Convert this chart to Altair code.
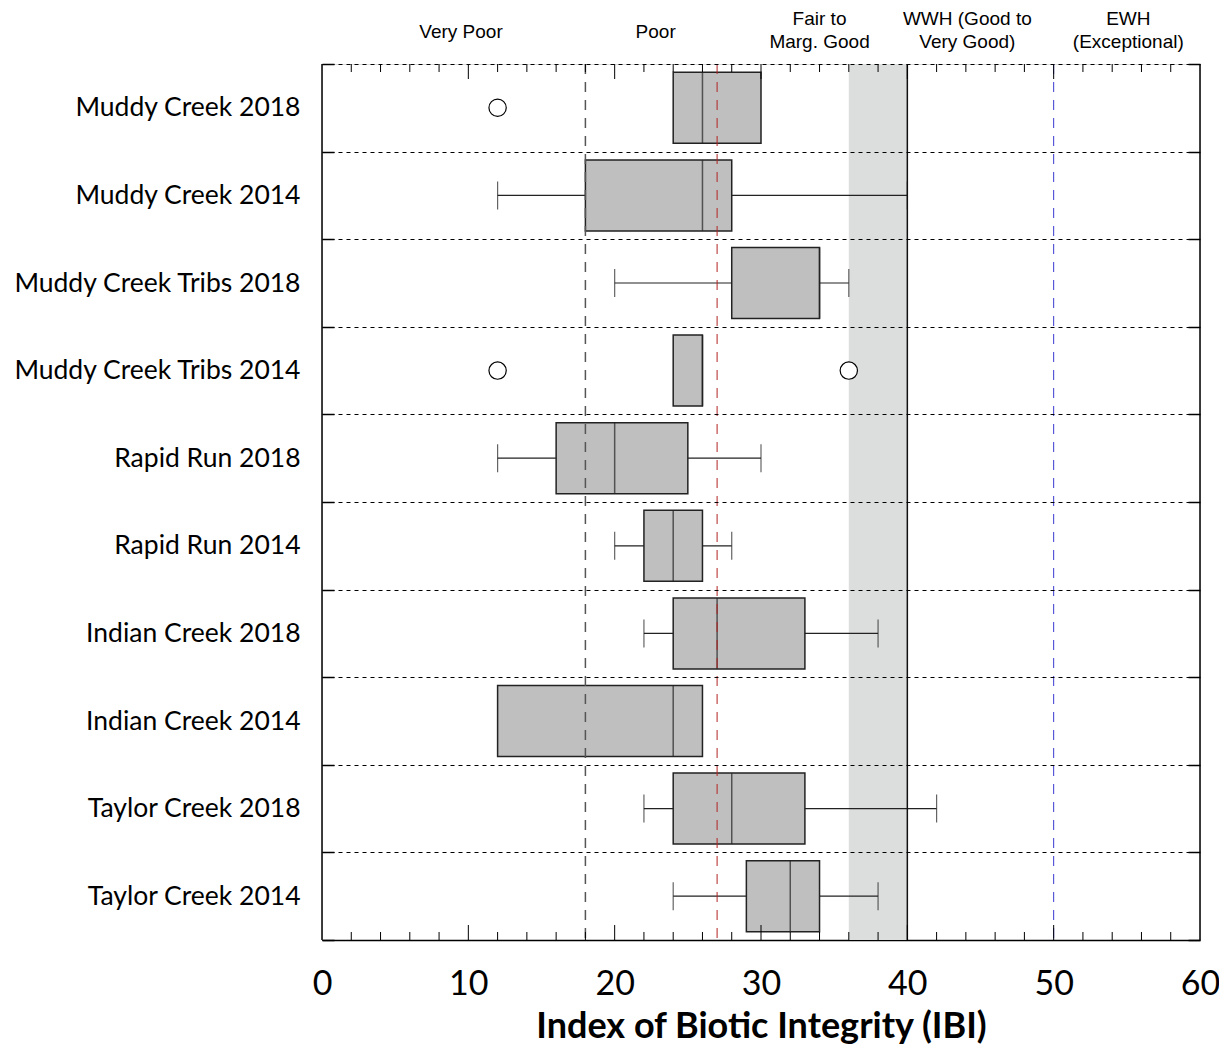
import altair as alt
import pandas as pd

# ---- data ----
categories = ["Muddy Creek 2018", "Muddy Creek 2014", "Muddy Creek Tribs 2018",
              "Muddy Creek Tribs 2014", "Rapid Run 2018", "Rapid Run 2014",
              "Indian Creek 2018", "Indian Creek 2014", "Taylor Creek 2018",
              "Taylor Creek 2014"]
whisker_low = [None, 12, 20, None, 12, 20, 22, None, 22, 24]
q1 = [24, 18, 28, 24, 16, 22, 24, 12, 24, 29]
median = [26, 26, 34, 26, 20, 24, 27, 24, 28, 32]
q3 = [30, 28, 34, 26, 25, 26, 33, 26, 33, 34]
whisker_high = [None, 40, 36, None, 30, 28, 38, 34, 42, 38]

outlier_sites = ["Muddy Creek 2018", "Muddy Creek Tribs 2014", "Muddy Creek Tribs 2014"]
outlier_values = [12, 12, 36]

single_labels = ["Very Poor", "Poor"]
single_label_pos = [9.5, 22.8]
double_labels = ["Fair to\nMarg. Good", "WWH (Good to\nVery Good)", "EWH\n(Exceptional)"]
double_label_pos = [34.0, 44.1, 55.1]

band_lo = [36]
band_hi = [40]
x_domain = [0, 60]
x_labels = [0, 10, 20, 30, 40, 50, 60]
minor_ticks = [v for v in range(2, 60, 2) if v % 10 != 0]
major_ticks = [10, 20, 30, 40, 50]

W, H = 878, 876

boxes = pd.DataFrame({"site": categories, "q1": q1, "median": median, "q3": q3})
whisk = pd.DataFrame({"site": categories, "lo": whisker_low, "hi": whisker_high}).dropna()
caps = pd.concat([
    whisk[["site", "lo"]].rename(columns={"lo": "v"}),
    whisk[["site", "hi"]].rename(columns={"hi": "v"}),
])
outl = pd.DataFrame({"site": outlier_sites, "v": outlier_values})

x_axis = alt.Axis(values=x_labels, ticks=False, grid=False, domain=True,
                  domainColor="#000", domainWidth=1.5, labelFont="Lato",
                  labelFontSize=34, labelPadding=27, labelColor="#000",
                  labelFlush=False, labelOverlap=False,
                  title="Index of Biotic Integrity (IBI)", titleFont="Lato",
                  titleFontSize=36, titleFontWeight="bold", titleColor="#000",
                  titlePadding=8)
x_scale = alt.Scale(domain=x_domain, nice=False, zero=False)


def X(field, typ="Q"):
    return alt.X(f"{field}:{typ}", scale=x_scale, axis=x_axis)


y_scale = alt.Scale(domain=categories, paddingInner=0, paddingOuter=0)
left_axis = alt.Axis(orient="left", title=None, tickBand="extent", grid=True,
                     gridDash=[4, 4], gridColor="#000", gridWidth=1,
                     domain=False, ticks=True, tickSize=12, tickColor="#000",
                     tickWidth=1.5, offset=-12, labelPadding=22,
                     labelFont="Lato", labelFontSize=26.5, labelColor="#000",
                     labelLimit=0, zindex=1)
right_axis = alt.Axis(orient="right", title=None, tickBand="extent", grid=False,
                      domain=False, ticks=True, tickSize=12, tickColor="#000",
                      tickWidth=1.5, offset=-12, labels=False, zindex=1)


def Y(axis):
    return alt.Y("site:N", sort=None, scale=y_scale, axis=axis)


band_df = pd.DataFrame({"a": band_lo, "b": band_hi})
band = alt.Chart(band_df).mark_rect(color="#DCDEDD").encode(
    x=X("a"), x2="b:Q", y=alt.value(0), y2=alt.value(H))

def vline(v, **kw):
    return alt.Chart(pd.DataFrame({"v": [v]})).mark_rule(**kw).encode(x=X("v"))

line18 = vline(18, color="#555555", strokeWidth=1.5, strokeDash=[10, 8])
line27 = vline(27, color="#B22222", strokeWidth=1, strokeDash=[10, 8])
line40 = vline(40, color="#111111", strokeWidth=1.5)
line50 = vline(50, color="#3A3AD0", strokeWidth=1, strokeDash=[10, 8])
border_l = vline(x_domain[0], color="#000", strokeWidth=1.5)
border_r = vline(x_domain[1], color="#000", strokeWidth=1.5)

def ticks(vals, y0, y1):
    return alt.Chart(pd.DataFrame({"v": vals})).mark_rule(color="#000", strokeWidth=1).encode(
        x=X("v"), y=alt.value(y0), y2=alt.value(y1))

t1 = ticks(minor_ticks, 0, 8)
t2 = ticks(major_ticks, 0, 15)
t3 = ticks(minor_ticks, H, H - 8)
t4 = ticks(major_ticks, H, H - 15)

whisker = alt.Chart(whisk).mark_rule(color="#222", strokeWidth=1.2).encode(
    x=X("lo"), x2="hi:Q", y=Y(right_axis))
cap = alt.Chart(caps).mark_tick(color="#222", size=28, thickness=1.2).encode(
    x=X("v"), y=Y(None))
box = alt.Chart(boxes).mark_bar(color="#BFBFBF", stroke="#222", strokeWidth=1.5,
                                height={"band": 0.81}).encode(
    x=X("q1"), x2="q3:Q", y=Y(left_axis))
med = alt.Chart(boxes).mark_tick(color="#222", size=71, thickness=1.5).encode(
    x=X("median"), y=Y(None))
pts = alt.Chart(outl).mark_point(shape="circle", filled=True, fill="white",
                                 stroke="#000", strokeWidth=1.2, size=300,
                                 opacity=1).encode(x=X("v"), y=Y(None))

lab1 = alt.Chart(pd.DataFrame({"label": single_labels, "v": single_label_pos})).mark_text(
    font="Liberation Sans", fontSize=19, baseline="middle", align="center",
    color="#000").encode(x=X("v"), y=alt.value(-32), text="label:N")
lab2 = alt.Chart(pd.DataFrame({"label": double_labels, "v": double_label_pos})).mark_text(
    font="Liberation Sans", fontSize=19, lineBreak="\n", lineHeight=23,
    baseline="middle", align="center", color="#000").encode(
    x=X("v"), y=alt.value(-45), text="label:N")

chart = alt.layer(
    band, whisker, cap, box, med, line18, line27, line40, line50,
    border_l, border_r, t1, t2, t3, t4, pts, lab1, lab2
).resolve_axis(y="independent").properties(
    width=W, height=H,
    autosize=alt.AutoSizeParams(type="none"),
    padding={"left": 314, "top": 56, "right": 19, "bottom": 116},
).configure_view(stroke=None).configure(background="white")

chart.save("out.html", embed_options={"renderer": "svg", "actions": False})
